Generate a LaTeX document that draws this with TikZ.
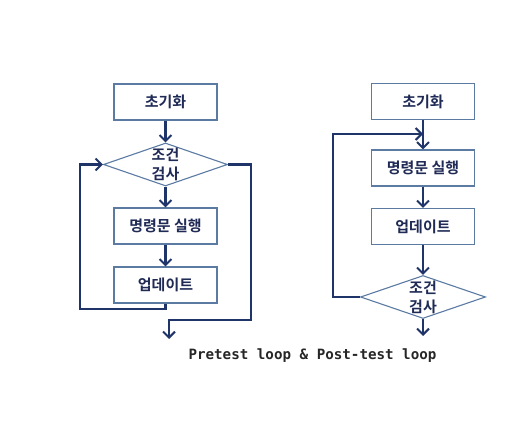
\documentclass[tikz,border=0pt]{standalone}
\usepackage{fontspec}
\newfontfamily\kr{Noto Sans CJK KR}[UprightFont=* Bold]
\newfontfamily\monof{DejaVu Sans Mono}
\usetikzlibrary{shapes.geometric,arrows.meta}
\definecolor{boxline}{HTML}{5B7BA3}
\definecolor{arrowc}{HTML}{1F3468}
\definecolor{txtc}{HTML}{1F2A55}
\tikzset{
  x=1pt,y=-1pt,
  stepbox/.style={draw=boxline,line width=1.1pt,minimum width=103pt,minimum height=36pt,inner sep=0pt,
    font=\kr\fontsize{15}{18}\selectfont,text=txtc},
  dia/.style={diamond,draw=boxline,line width=1.1pt,minimum width=124pt,minimum height=43pt,inner sep=0pt,aspect=2.9},
  diatext/.style={font=\kr\fontsize{15}{19}\selectfont,text=txtc,align=center,inner sep=0pt},
  flow/.style={draw=arrowc,line width=2.2pt},
  arr/.style={flow,-{Straight Barb[length=6pt,width=12pt,line width=2pt]}},
}
\begin{document}
\begin{tikzpicture}
\useasboundingbox[fill=white] (0,0) rectangle (528,430);
% left: pretest loop
\node[stepbox] (n1) at (165.5,102) {초기화};
\node[dia] (d1) at (165.5,164.5) {};
\node[diatext] (t1) at (d1) {조건\\검사};
\node[stepbox] (n2) at (165.5,226) {명령문 실행};
\node[stepbox] (n3) at (165.5,285) {업데이트};
\coordinate (le1) at (165.5,309);
\coordinate (le2) at (80,309);
\coordinate (le3) at (80,164.5);
\coordinate (re1) at (251,164.5);
\coordinate (re2) at (251,320);
\coordinate (re3) at (169,320);
\coordinate (re4) at (169,339);
\draw[arr] (n1) -- (d1);
\draw[arr] (d1) -- (n2);
\draw[arr] (n2) -- (n3);
\draw[arr] (n3.south) -- (le1) -- (le2) -- (le3) -- (d1.west);
\draw[arr] (d1.east) -- (re1) -- (re2) -- (re3) -- (re4);
% right: post-test loop
\node[stepbox] (m1) at (423,101.5) {초기화};
\node[stepbox] (m2) at (423,168) {명령문 실행};
\node[stepbox] (m3) at (423,226.5) {업데이트};
\node[dia,minimum width=125pt] (d2) at (423,297) {};
\node[diatext] (t2) at (d2) {조건\\검사};
\coordinate (j) at (423,134);
\coordinate (pl1) at (333,297);
\coordinate (pl2) at (333,134);
\coordinate (ex) at (423,336);
\draw[arr] (m1) -- (m2);
\draw[arr] (m2) -- (m3);
\draw[arr] (m3.south) -- (d2.north);
\draw[arr] (d2.west) -- (pl1) -- (pl2) -- (j);
\draw[arr] (d2.south) -- (ex);
% caption
\node[font=\monof\bfseries\fontsize{14.2}{16}\selectfont,text=black!85,inner sep=0pt] (cap) at (312.5,356) {Pretest loop \& Post-test loop};
\end{tikzpicture}
\end{document}
